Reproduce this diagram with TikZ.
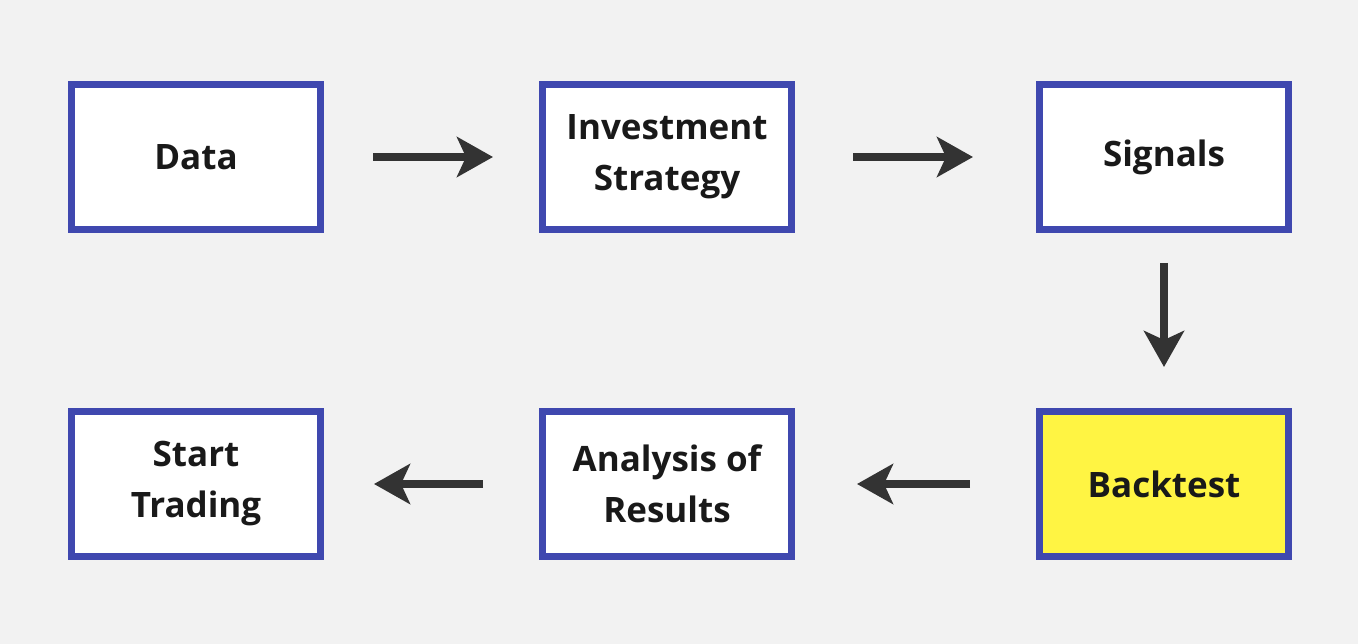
\documentclass[tikz,border=0pt]{standalone}
\usepackage{fontspec}
\setmainfont{Open Sans}
\usetikzlibrary{arrows.meta}
\definecolor{bg}{HTML}{F2F2F2}
\definecolor{bd}{HTML}{3F48AF}
\definecolor{yl}{HTML}{FFF443}
\definecolor{ar}{HTML}{333333}
\begin{document}
\begin{tikzpicture}[x=1pt,y=-1pt,
  box/.style={draw=bd,line width=7pt,fill=white,minimum width=249pt,minimum height=145pt,inner sep=0pt,align=center,font=\fontsize{35}{51}\selectfont\bfseries,text=black!90},
  conn/.style={draw=ar,line width=8pt,-{Stealth[length=36pt,width=40pt,inset=9pt]}}]
\fill[bg] (0,0) rectangle (1358,644);
\node[box] (data) at (196,157) {Data};
\node[box] (inv) at (667,157) {Investment\\Strategy};
\node[box] (sig) at (1164,157) {Signals};
\node[box] (start) at (196,484) {Start\\Trading};
\node[box] (ana) at (667,484) {Analysis of\\Results};
\node[box,fill=yl] (bt) at (1164,484) {Backtest};
\draw[conn,shorten <=49pt,shorten >=46pt] (data) -- (inv);
\draw[conn,shorten <=58pt,shorten >=63pt] (inv) -- (sig);
\draw[conn,shorten <=30pt,shorten >=41pt] (sig) -- (bt);
\draw[conn,shorten <=66pt,shorten >=62pt] (bt) -- (ana);
\draw[conn,shorten <=56pt,shorten >=50pt] (ana) -- (start);
\end{tikzpicture}
\end{document}
